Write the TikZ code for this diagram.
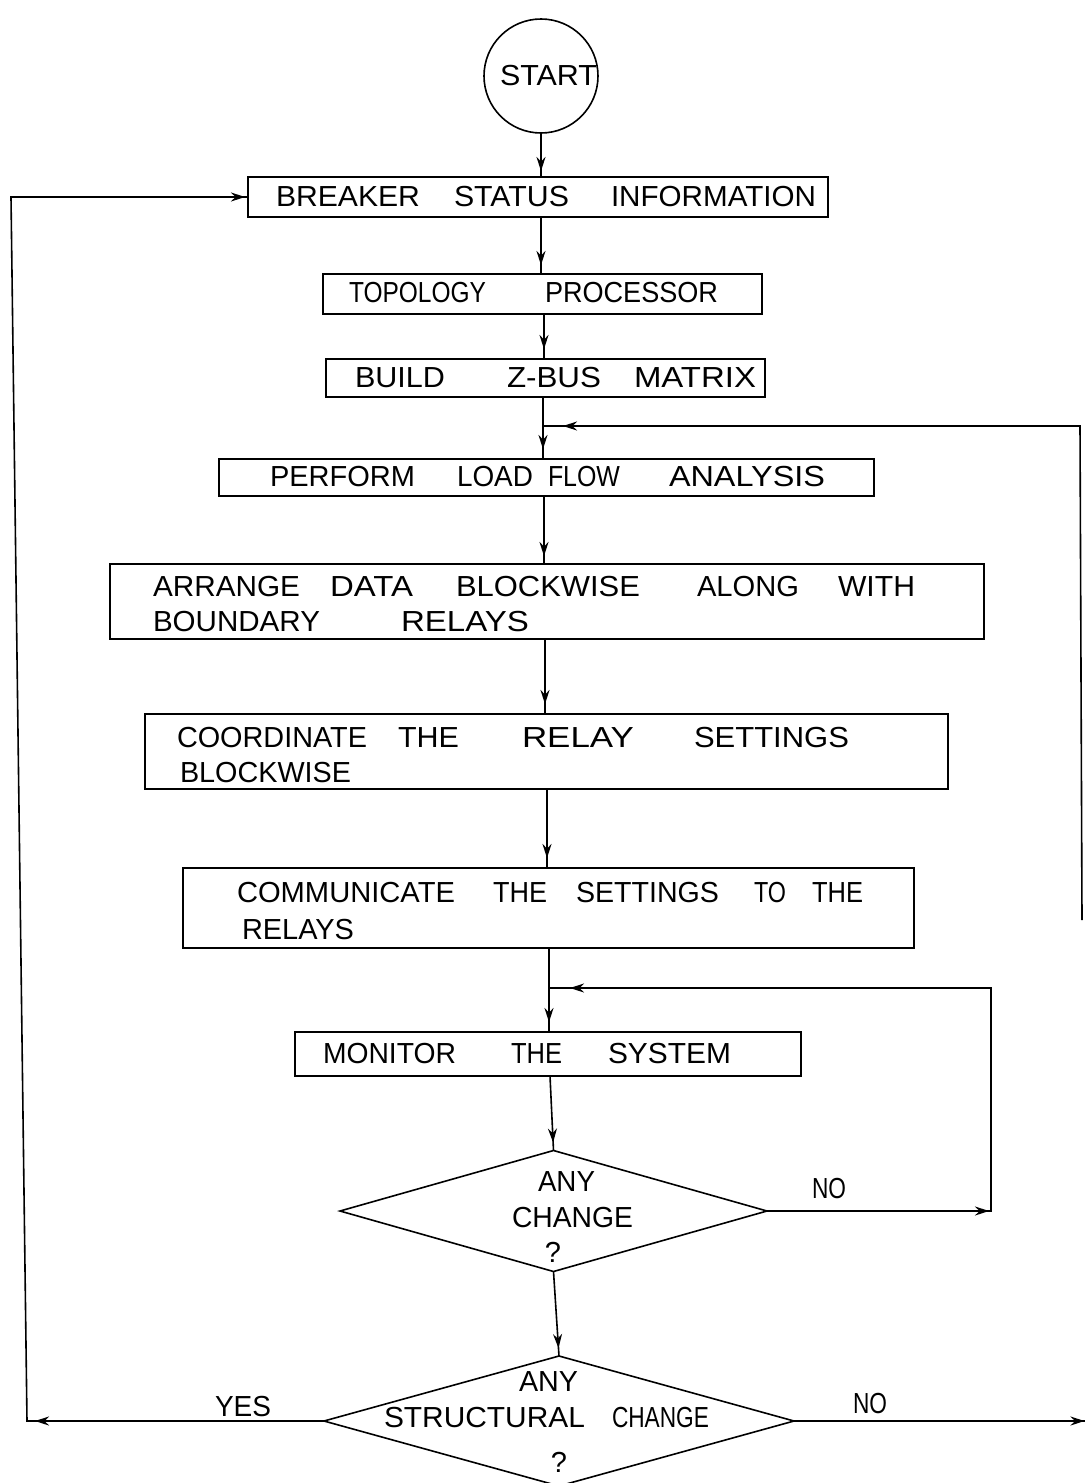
\documentclass[tikz,border=0pt]{standalone}
\usepackage{fontspec}
\setmainfont{Liberation Sans}
\usepackage{graphicx}
\usetikzlibrary{arrows.meta,decorations.markings,shapes.geometric}

% a word squeezed or stretched to a given width (in pt), height kept
\newcommand\fitword[2]{\resizebox{#1pt}{\height}{#2}}
% horizontal gap between words (in pt)
\newcommand\wgap[1]{\hspace{#1pt}}

\tikzset{
  box/.style={draw, rectangle, line width=1.6pt, inner sep=0pt, outer sep=0pt},
  decision/.style={draw, diamond, line width=1.6pt, inner sep=0pt, outer sep=0pt},
  term/.style={draw, circle, line width=1.6pt, inner sep=0pt, outer sep=0pt, minimum size=114pt},
  words/.style={inner sep=0pt, outer sep=0pt, anchor=west, font=\fontsize{29}{34}\selectfont},
  link/.style={line width=1.6pt},
  tipat/.style={postaction={decorate, decoration={markings,
      mark=at position #1 with {\arrow{Stealth[length=14pt,width=9pt]}}}}},
}

\begin{document}
\begin{tikzpicture}[x=1pt, y=-1pt]
\useasboundingbox (0,0) rectangle (1085,1483);
\fill[white] (0,0) rectangle (1085,1483);

% ---- blocks ----
\node[term] (start) at (541,76) {};
\node[words] (tstart) at (500,76) {\fitword{97}{START}};

\node[box, minimum width=580pt, minimum height=40pt] (b1) at (538,197) {};
\node[words] (t1) at (276,197) {\fitword{144}{BREAKER}\wgap{34}\fitword{115}{STATUS}\wgap{42}\fitword{205}{INFORMATION}};

\node[box, minimum width=439pt, minimum height=40pt] (b2) at (542.5,294) {};
\node[words] (t2) at (349,293) {\fitword{137}{TOPOLOGY}\wgap{59}\fitword{173}{PROCESSOR}};

\node[box, minimum width=439pt, minimum height=38pt] (b3) at (545.5,378) {};
\node[words] (t3) at (355,378) {\fitword{90}{BUILD}\wgap{62}\fitword{94}{Z-BUS}\wgap{33}\fitword{122}{MATRIX}};

\node[box, minimum width=655pt, minimum height=37pt] (b4) at (546.5,477.5) {};
\node[words] (t4) at (270,477) {\fitword{145}{PERFORM}\wgap{42}\fitword{76}{LOAD}\wgap{15}\fitword{72}{FLOW}\wgap{49}\fitword{156}{ANALYSIS}};

\node[box, minimum width=874pt, minimum height=75pt] (b5) at (547,601.5) {};
\node[words] (t5a) at (153,587) {\fitword{147}{ARRANGE}\wgap{30}\fitword{83}{DATA}\wgap{43}\fitword{184}{BLOCKWISE}\wgap{57}\fitword{102}{ALONG}\wgap{39}\fitword{77}{WITH}};
\node[words] (t5b) at (153,622) {\fitword{167}{BOUNDARY}\wgap{81}\fitword{128}{RELAYS}};

\node[box, minimum width=803pt, minimum height=75pt] (b6) at (546.5,751.5) {};
\node[words] (t6a) at (177,738) {\fitword{190}{COORDINATE}\wgap{31}\fitword{61}{THE}\wgap{63}\fitword{112}{RELAY}\wgap{60}\fitword{155}{SETTINGS}};
\node[words] (t6b) at (180,773) {\fitword{171}{BLOCKWISE}};

\node[box, minimum width=731pt, minimum height=80pt] (b7) at (548.5,908) {};
\node[words] (t7a) at (237,893) {\fitword{218}{COMMUNICATE}\wgap{38}\fitword{54}{THE}\wgap{29}\fitword{143}{SETTINGS}\wgap{35}\fitword{32}{TO}\wgap{26}\fitword{51}{THE}};
\node[words] (t7b) at (242,930) {\fitword{112}{RELAYS}};

\node[box, minimum width=506pt, minimum height=44pt] (b8) at (548,1054) {};
\node[words] (t8) at (323,1054) {\fitword{133}{MONITOR}\wgap{55}\fitword{51}{THE}\wgap{46}\fitword{123}{SYSTEM}};

\node[decision, minimum width=427pt, minimum height=121pt] (d1) at (553.5,1211) {};
\node[words] (td1a) at (538,1182) {\fitword{57}{ANY}};
\node[words] (td1b) at (512,1218) {\fitword{121}{CHANGE}};
\node[words, anchor=center] (td1c) at (553,1252) {?};

\node[decision, minimum width=470pt, minimum height=130pt] (d2) at (559,1421) {};
\node[words] (td2a) at (519,1382) {\fitword{59}{ANY}};
\node[words] (td2b) at (384,1417) {\fitword{201}{STRUCTURAL}\wgap{27}\fitword{97}{CHANGE}};
\node[words, anchor=center] (td2c) at (559,1462) {?};

% ---- branch labels ----
\node[words] (lno1) at (812,1189) {\fitword{34}{NO}};
\node[words] (lyes) at (215,1406) {\fitword{56}{YES}};
\node[words] (lno2) at (853,1403) {\fitword{34}{NO}};

% ---- junction and corner points ----
\coordinate (j1) at (543,426);
\coordinate (j2) at (549,988);
\coordinate (rfree) at (1082,920);
\coordinate (rtop) at (1080,426);
\coordinate (c3) at (991,988);
\coordinate (cbl) at (27,1421);
\coordinate (ctl) at (11,197);
\coordinate (rend) at (1085,1421);

% ---- main flow ----
\draw[link, tipat=-6pt] (start.south) -- ([xshift=3pt]b1.north);
\draw[link, tipat=-9pt] ([xshift=3pt]b1.south) -- ([xshift=-1.5pt]b2.north);
\draw[link, tipat=-10pt] ([xshift=1.5pt]b2.south) -- ([xshift=-1.5pt]b3.north);
\draw[link, tipat=-10pt] ([xshift=-2.5pt]b3.south) -- ([xshift=-3.5pt]b4.north);
\draw[link, tipat=-8pt] ([xshift=-2.5pt]b4.south) -- ([xshift=-3pt]b5.north);
\draw[link, tipat=-10pt] ([xshift=-2pt]b5.south) -- ([xshift=-1.5pt]b6.north);
\draw[link, tipat=-10pt] ([xshift=0.5pt]b6.south) -- ([xshift=-1.5pt]b7.north);
\draw[link, tipat=-10pt] ([xshift=0.5pt]b7.south) -- ([xshift=1pt]b8.north);
\draw[link, tipat=-8pt] ([xshift=2pt]b8.south) -- (d1.north);
\draw[link, tipat=-8pt] (d1.south) -- (d2.north);

% ---- return paths ----
\draw[link, tipat=-20pt] (rfree) -- (rtop) -- (j1);
\draw[link, tipat=222pt, tipat=-21pt] (d1.east) -- (d1.east -| c3) -- (c3) -- (j2);
\draw[link, tipat=289pt, tipat=-3pt] (d2.west) -- (cbl) -- (ctl) -- (b1.west);
\draw[link, tipat=-0.5pt] (d2.east) -- (rend);
\end{tikzpicture}
\end{document}
